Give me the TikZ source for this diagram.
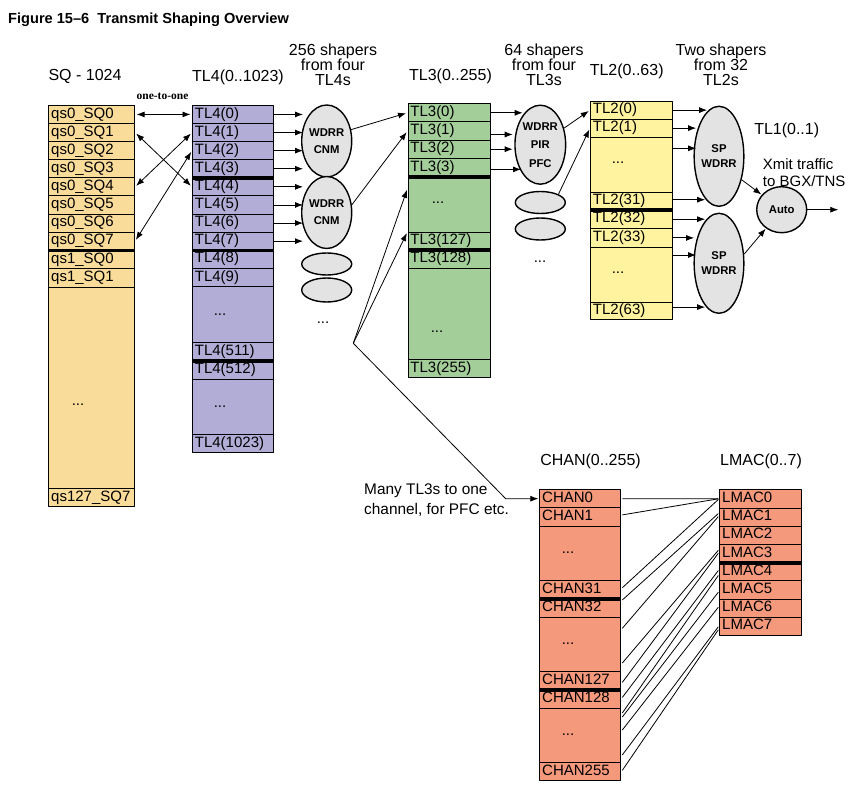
\documentclass[tikz,border=0pt]{standalone}
\usepackage{fontspec}
\setmainfont{Liberation Sans}
\newfontfamily\oneserif{Liberation Serif}
\usetikzlibrary{shapes.geometric,arrows.meta,calc}
\definecolor{sqc}{HTML}{F9DC9A}
\definecolor{tlfour}{HTML}{B1ADD6}
\definecolor{tlthree}{HTML}{A4CE99}
\definecolor{tltwo}{HTML}{FFF3A0}
\definecolor{chanc}{HTML}{F4997B}
\definecolor{shp}{HTML}{E3E3E3}
\tikzset{
  cell/.style={draw=black, line width=0.8pt, anchor=north west, inner xsep=2.5pt, inner ysep=0pt,
    text height=11pt, text depth=3.5pt, align=left, font=\fontsize{15}{18}\selectfont},
  sqcell/.style={cell, fill=sqc, text width=81pt},
  tfcell/.style={cell, fill=tlfour, text width=76pt},
  ttcell/.style={cell, fill=tlthree, text width=77pt},
  twcell/.style={cell, fill=tltwo, text width=77pt},
  chcell/.style={cell, fill=chanc, text width=75.7pt},
  lmcell/.style={cell, fill=chanc, text width=76.4pt},
  dotsty/.style={inner sep=0pt, font=\fontsize{15}{18}\selectfont},
  shaper/.style={ellipse, draw=black, line width=1.4pt, fill=shp, inner sep=0pt, align=center,
    font=\bfseries\fontsize{11.3}{17}\selectfont},
  arr/.style={-{Latex[length=8pt,width=6pt]}, line width=0.8pt},
  darr/.style={{Latex[length=8pt,width=6pt]}-{Latex[length=8pt,width=6pt]}, line width=0.8pt, shorten <=1.5pt, shorten >=1.5pt},
  ln/.style={line width=0.8pt},
  sepline/.style={line width=3.5pt},
  hdr/.style={font=\fontsize{16}{15}\selectfont, align=center, inner sep=0pt, anchor=north},
  lbl/.style={font=\fontsize{16}{18}\selectfont, inner sep=0pt, anchor=base},
}
\begin{document}
\begin{tikzpicture}[x=1pt, y=-1pt, line join=round]
\useasboundingbox (0,0) rectangle (851,786);

% title
\node[anchor=base west, inner sep=0pt, font=\bfseries\fontsize{14.6}{16}\selectfont] (title) at (8,24) {Figure 15--6\ \ Transmit Shaping Overview};

% headers
\node[lbl] (hsq) at (85,81) {SQ - 1024};
\node[lbl] (htf) at (238,82) {TL4(0..1023)};
\node[lbl] (htt) at (450.5,81) {TL3(0..255)};
\node[lbl] (htw) at (626.7,76) {TL2(0..63)};
\node[lbl] (hto) at (786.7,135) {TL1(0..1)};
\node[lbl] (hch) at (590.5,465.5) {CHAN(0..255)};
\node[lbl] (hlm) at (761,465.5) {LMAC(0..7)};
\node[hdr] (hs1) at (333,44) {256 shapers\\from four\\TL4s};
\node[hdr] (hs2) at (544,44) {64 shapers\\from four\\TL3s};
\node[hdr] (hs3) at (721,44) {Two shapers\\from 32\\TL2s};
\node[anchor=base, inner sep=0pt, font=\oneserif\bfseries\fontsize{11.5}{12}\selectfont] (oto) at (162.5,100) {one-to-one};
\node[anchor=north west, inner sep=0pt, align=left, font=\fontsize{15}{16.5}\selectfont] (xmit) at (762.7,158.5) {Xmit traffic\\to BGX/TNS};
\node[anchor=north west, inner sep=0pt, align=left, font=\fontsize{15.4}{19.3}\selectfont] (many) at (364,484) {Many TL3s to one\\channel, for PFC etc.};

% SQ column
\foreach \i in {0,...,7} {
  \node[sqcell, minimum height=18.1pt] (sq\i) at (48.3,{105+18.1*\i}) {qs0\_SQ\i};
}
\node[sqcell, minimum height=18.6pt] (sq8) at (48.3,249.8) {qs1\_SQ0};
\node[sqcell, minimum height=18.9pt] (sq9) at (48.3,268.4) {qs1\_SQ1};
\node[sqcell, minimum height=201pt] (sqd) at (48.3,287.3) {};
\node[sqcell, minimum height=17.7pt] (sqz) at (48.3,488.3) {qs127\_SQ7};
\node[dotsty] (sqdots) at (78,405) {...};

% TL4 column
\foreach \i in {0,...,9} {
  \node[tfcell, minimum height=18.1pt] (t4-\i) at (192,{105+18.1*\i}) {TL4(\i)};
}
\node[tfcell, minimum height=56.3pt] (t4-d1) at (192,286) {};
\node[tfcell, minimum height=18pt] (t4-511) at (192,342.3) {TL4(511)};
\node[tfcell, minimum height=18.5pt] (t4-512) at (192,360.3) {TL4(512)};
\node[tfcell, minimum height=55.2pt] (t4-d2) at (192,378.8) {};
\node[tfcell, minimum height=18.3pt] (t4-1023) at (192,434) {TL4(1023)};
\node[dotsty] (t4dots1) at (220,315) {...};
\node[dotsty] (t4dots2) at (220,406.5) {...};

% TL3 column
\foreach \i in {0,...,3} {
  \node[ttcell, minimum height=18.2pt] (tl3-\i) at (407.5,{103.3+18.2*\i}) {TL3(\i)};
}
\node[ttcell, minimum height=55.6pt] (tl3-d1) at (407.5,176.1) {};
\node[ttcell, minimum height=17.6pt] (tl3-127) at (407.5,231.7) {TL3(127)};
\node[ttcell, minimum height=18.4pt] (tl3-128) at (407.5,249.3) {TL3(128)};
\node[ttcell, minimum height=91.6pt] (tl3-d2) at (407.5,267.7) {};
\node[ttcell, minimum height=18pt] (tl3-255) at (407.5,359.3) {TL3(255)};
\node[dotsty] (t3dots1) at (438,203) {...};
\node[dotsty] (t3dots2) at (437,331.7) {...};

% TL2 column
\node[twcell, minimum height=18pt] (tl2-0) at (590,100.7) {TL2(0)};
\node[twcell, minimum height=18pt] (tl2-1) at (590,118.7) {TL2(1)};
\node[twcell, minimum height=55pt] (tl2-d1) at (590,136.7) {};
\node[twcell, minimum height=17.6pt] (tl2-31) at (590,191.7) {TL2(31)};
\node[twcell, minimum height=19pt] (tl2-32) at (590,209.3) {TL2(32)};
\node[twcell, minimum height=18.4pt] (tl2-33) at (590,228.3) {TL2(33)};
\node[twcell, minimum height=55pt] (tl2-d2) at (590,246.7) {};
\node[twcell, minimum height=17.6pt] (tl2-63) at (590,301.7) {TL2(63)};
\node[dotsty] (t2dots1) at (618,163) {...};
\node[dotsty] (t2dots2) at (618,273) {...};

% CHAN column
\node[chcell, minimum height=18pt] (ch0) at (539.3,489.3) {CHAN0};
\node[chcell, minimum height=18.4pt] (ch1) at (539.3,507.3) {CHAN1};
\node[chcell, minimum height=54.3pt] (chd1) at (539.3,525.7) {};
\node[chcell, minimum height=18.3pt] (ch31) at (539.3,580) {CHAN31};
\node[chcell, minimum height=19pt] (ch32) at (539.3,598.3) {CHAN32};
\node[chcell, minimum height=53.7pt] (chd2) at (539.3,617.3) {};
\node[chcell, minimum height=18pt] (ch127) at (539.3,671) {CHAN127};
\node[chcell, minimum height=19.3pt] (ch128) at (539.3,689) {CHAN128};
\node[chcell, minimum height=54pt] (chd3) at (539.3,708.3) {};
\node[chcell, minimum height=17.7pt] (ch255) at (539.3,762.3) {CHAN255};
\node[dotsty] (chdots1) at (568,553) {...};
\node[dotsty] (chdots2) at (568,644) {...};
\node[dotsty] (chdots3) at (568,735) {...};

% LMAC column
\foreach \i in {0,...,7} {
  \node[lmcell, minimum height=18.2pt] (lm\i) at (719.3,{489.3+18.2*\i}) {LMAC\i};
}

% thick separators
\foreach \n in {sq7,t4-3,t4-7,t4-511,tl3-3,tl3-127,tl2-31,ch31,ch127,lm3} {
  \draw[sepline] (\n.south west) -- (\n.south east);
}

% shapers
\node[shaper, minimum width=50pt, minimum height=72pt] (e1) at (326.7,141) {WDRR\\CNM};
\node[shaper, minimum width=50pt, minimum height=72pt] (e2) at (326.7,212.5) {WDRR\\CNM};
\node[shaper, minimum width=50pt, minimum height=22pt] (e1a) at (326.7,264) {};
\node[shaper, minimum width=50pt, minimum height=24pt] (e1b) at (326.7,290) {};
\node[dotsty] (e1dots) at (323,323) {...};
\node[shaper, minimum width=50.7pt, minimum height=79pt, font=\bfseries\fontsize{11.3}{18.5}\selectfont] (e3) at (540.3,144.7) {WDRR\\PIR\\PFC};
\node[shaper, minimum width=50pt, minimum height=22pt] (e3a) at (540.3,202.5) {};
\node[shaper, minimum width=50pt, minimum height=22pt] (e3b) at (540.3,229) {};
\node[dotsty] (e3dots) at (540,262) {...};
\node[shaper, minimum width=48pt, minimum height=100pt, font=\bfseries\fontsize{11.3}{14.5}\selectfont] (sp1) at (719,156.3) {SP\\WDRR};
\node[shaper, minimum width=48pt, minimum height=100pt, font=\bfseries\fontsize{11.3}{14.5}\selectfont] (sp2) at (719,263.3) {SP\\WDRR};
\node[shaper, minimum width=50pt, minimum height=46pt] (auto) at (781.7,209.7) {Auto};

% SQ <-> TL4
\draw[darr] (sq0.east) -- (t4-0.west);
\draw[darr] (sq1.east) -- (t4-4.west);
\draw[darr] (sq4.east) -- (t4-1.west);
\draw[darr] (sq7.east) -- (t4-2.west);

% TL4 -> shapers
\foreach \i in {0,...,3} { \draw[arr, shorten >=-2pt] (t4-\i.east) -- (t4-\i.east -| e1.west); }
\foreach \i in {4,...,7} { \draw[arr, shorten >=-2pt] (t4-\i.east) -- (t4-\i.east -| e2.west); }

% shapers -> TL3
\draw[arr, shorten >=1.5pt] (e1.25) -- (tl3-0.west);
\draw[arr, shorten >=1.5pt] (e2.17) -- (tl3-1.west);
\coordinate (fan) at (353.3,343.3);
\draw[arr, shorten >=1.5pt] (fan) -- ($(tl3-d1.north west)+(0,12.3)$);
\draw[arr, shorten >=1.5pt] (fan) -- (tl3-127.north west);
\draw[arr, shorten >=1pt] (fan) -- ($(ch0.west)+(-33.6,0)$) -- (ch0.west);

% TL3 -> shaper
\draw[arr] (tl3-0.east) -- ++(32.4,0);
\draw[arr] ($(tl3-1.east)+(0,3.5)$) -- ++(22.4,0);
\draw[arr] (tl3-2.east) -- ++(22.4,0);
\draw[arr] ($(tl3-3.east)+(0,2)$) -- ++(30.7,0);

% shapers -> TL2
\draw[arr, shorten >=1.5pt] (e3) -- (tl2-0.west);
\draw[arr, shorten >=1.5pt] (e3a.north east) -- (tl2-1.west);

% TL2 -> SP
\draw[arr] (tl2-0.east) -- ++(34.3,0);
\draw[arr] (tl2-1.east) -- ++(23.3,0);
\draw[arr] ($(tl2-d1.north east)+(0,11.6)$) -- ++(23.3,0);
\draw[arr] ($(tl2-31.east)+(0,-1.2)$) -- ++(32.3,0);
\draw[arr] (tl2-32.east) -- ++(32.3,0);
\draw[arr] (tl2-33.east) -- ++(21.3,0);
\draw[arr] ($(tl2-d2.north east)+(0,8.3)$) -- ++(23.3,0);
\draw[arr] ($(tl2-63.east)+(0,-3.8)$) -- ++(32.3,0);

% SP -> Auto -> out
\draw[arr, shorten >=0.5pt] (sp1.314) -- (auto);
\draw[arr, shorten >=0.5pt] (sp2.20) -- (auto);
\coordinate (xout) at (838.3,209.7);
\draw[arr] (auto.east) -- (xout);

% CHAN -> LMAC
\draw[ln] ($(ch0.east)+(1.5,0)$) -- ($(lm0.west)+(-1,0)$);
\draw[ln] ($(ch1.east)+(1.5,-2)$) -- ($(lm0.west)+(-1,0)$);
\draw[ln] ($(ch31.east)+(1.5,-1.8)$) -- ($(lm0.west)+(-1,0.7)$);
\draw[ln] ($(ch32.north east)+(1.5,1.7)$) -- ($(lm1.west)+(-1,-3.4)$);
\draw[ln] ($(chd2.north east)+(1.5,11)$) -- ($(lm1.west)+(-1,-0.4)$);
\draw[ln] ($(chd2.north east)+(1.5,45.7)$) -- ($(lm3.west)+(-1,-3.1)$);
\draw[ln] ($(ch127.east)+(1.5,2)$) -- ($(lm3.west)+(-1,-0.1)$);
\draw[ln] ($(ch128.east)+(1.5,-1.6)$) -- ($(lm4.west)+(-1,-1.1)$);
\draw[ln] ($(chd3.north east)+(1.5,4.7)$) -- ($(lm4.west)+(-1,3.9)$);
\draw[ln] ($(chd3.north east)+(1.5,8.7)$) -- ($(lm5.west)+(-1,2.4)$);
\draw[ln] ($(chd3.north east)+(1.5,21.7)$) -- ($(lm6.west)+(-1,-0.8)$);
\draw[ln] ($(chd3.north east)+(1.5,46.7)$) -- ($(lm7.west)+(-1,0.6)$);
\draw[ln] ($(ch255.east)+(1.5,-1.2)$) -- ($(lm7.west)+(-1,3.6)$);
\end{tikzpicture}
\end{document}
